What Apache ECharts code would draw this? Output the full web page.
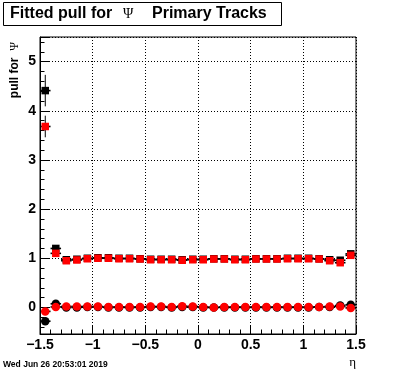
<!DOCTYPE html>
<html>
<head>
<meta charset="utf-8">
<script src="https://cdn.jsdelivr.net/npm/echarts@6/dist/echarts.min.js"></script>
<style>
  html, body { margin: 0; padding: 0; background: #fff; }
  #chart { width: 396px; height: 372px; }
</style>
</head>
<body>
<div id="chart"></div>
<script>
// eta bin centres
const etaBins = [-1.45, -1.35, -1.25, -1.15, -1.05, -0.95, -0.85, -0.75, -0.65, -0.55,
  -0.45, -0.35, -0.25, -0.15, -0.05, 0.05, 0.15, 0.25, 0.35, 0.45,
  0.55, 0.65, 0.75, 0.85, 0.95, 1.05, 1.15, 1.25, 1.35, 1.45]
const binHalfWidth = 0.05

// pull width (squares)
const blackSq = [4.41, 1.20, 0.97, 0.98, 1.00, 1.01, 1.01, 1.00, 1.00, 0.99,
  0.98, 0.98, 0.98, 0.97, 0.98, 0.98, 0.99, 0.99, 0.98, 0.98,
  0.99, 0.99, 0.99, 1.00, 1.00, 1.00, 0.99, 0.97, 0.96, 1.09]
const blackSqErr = [0.32, 0.06, 0.02, 0.02, 0.02, 0.02, 0.02, 0.02, 0.02, 0.02,
  0.02, 0.02, 0.02, 0.02, 0.02, 0.02, 0.02, 0.02, 0.02, 0.02,
  0.02, 0.02, 0.02, 0.02, 0.02, 0.02, 0.02, 0.02, 0.02, 0.04]
const redSq = [3.68, 1.10, 0.95, 0.965, 0.99, 1.00, 1.00, 0.99, 0.99, 0.985,
  0.97, 0.97, 0.97, 0.96, 0.97, 0.97, 0.985, 0.985, 0.97, 0.97,
  0.985, 0.985, 0.985, 0.99, 0.99, 0.99, 0.985, 0.95, 0.91, 1.06]
const redSqErr = [0.22, 0.05, 0.02, 0.02, 0.02, 0.02, 0.02, 0.02, 0.02, 0.02,
  0.02, 0.02, 0.02, 0.02, 0.02, 0.02, 0.02, 0.02, 0.02, 0.02,
  0.02, 0.02, 0.02, 0.02, 0.02, 0.02, 0.02, 0.02, 0.02, 0.03]

// pull mean (circles)
const blackCi = [-0.28, 0.075, 0.00, 0.00, 0.01, 0.01, 0.00, 0.00, 0.00, 0.00,
  0.01, 0.01, 0.00, 0.01, 0.01, 0.00, 0.00, 0.00, 0.00, 0.00,
  0.00, 0.00, 0.00, 0.00, 0.00, 0.00, 0.01, 0.01, 0.04, 0.055]
const blackCiErr = [0.04, 0.03, 0.02, 0.02, 0.02, 0.02, 0.02, 0.02, 0.02, 0.02,
  0.02, 0.02, 0.02, 0.02, 0.02, 0.02, 0.02, 0.02, 0.02, 0.02,
  0.02, 0.02, 0.02, 0.02, 0.02, 0.02, 0.02, 0.02, 0.02, 0.03]
const redCi = [-0.08, 0.01, 0.02, 0.02, 0.02, 0.02, 0.01, 0.01, 0.01, 0.01,
  0.02, 0.02, 0.01, 0.025, 0.02, 0.01, 0.00, 0.01, 0.01, 0.01,
  0.01, 0.01, 0.01, 0.01, 0.01, 0.01, 0.01, 0.02, 0.02, -0.01]
const redCiErr = [0.03, 0.02, 0.02, 0.02, 0.02, 0.02, 0.02, 0.02, 0.02, 0.02,
  0.02, 0.02, 0.02, 0.02, 0.02, 0.02, 0.02, 0.02, 0.02, 0.02,
  0.02, 0.02, 0.02, 0.02, 0.02, 0.02, 0.02, 0.02, 0.02, 0.03]

const FONT = '"Liberation Sans", Arial, sans-serif'
const SERIF = '"Liberation Serif", "DejaVu Serif", serif'

const points = (vals) => etaBins.map((x, i) => [x, vals[i]])
const errRows = (vals, errs) => etaBins.map((x, i) => [x, vals[i], errs[i]])

const errorSeries = (vals, errs) => ({
  type: 'custom',
  z: 2,
  silent: true,
  data: errRows(vals, errs),
  renderItem: (params, api) => {
    const x = api.value(0)
    const y = api.value(1)
    const e = api.value(2)
    const l = api.coord([x - binHalfWidth, y])
    const r = api.coord([x + binHalfWidth, y])
    const t = api.coord([x, y + e])
    const b = api.coord([x, y - e])
    return {
      type: 'group',
      children: [
        { type: 'line', shape: { x1: l[0], y1: l[1], x2: r[0], y2: r[1] }, style: { stroke: '#000', lineWidth: 1.6 } },
        { type: 'line', shape: { x1: t[0], y1: t[1], x2: b[0], y2: b[1] }, style: { stroke: '#000', lineWidth: 1 } }
      ]
    }
  }
})

const markerSeries = (vals, symbol, size, color) => ({
  type: 'scatter',
  z: 3,
  silent: true,
  symbol,
  symbolSize: size,
  itemStyle: { color, opacity: 1 },
  data: points(vals)
})

const chart = echarts.init(document.getElementById('chart'), null, { renderer: 'canvas' })

chart.setOption({
  animation: false,
  backgroundColor: '#fff',
  grid: { left: 40, right: 40, top: 37, bottom: 38, show: true, borderColor: '#000', borderWidth: 1, backgroundColor: 'transparent' },
  xAxis: {
    type: 'value',
    min: -1.5,
    max: 1.5,
    interval: 0.5,
    axisLine: { onZero: false, lineStyle: { color: '#000', width: 1 } },
    axisTick: { inside: true, length: 9, lineStyle: { color: '#000' } },
    minorTick: { show: true, splitNumber: 5, length: 4.5, lineStyle: { color: '#000' } },
    splitLine: { show: true, lineStyle: { color: '#000', type: [1, 2], width: 1 } },
    axisLabel: {
      margin: 4,
      color: '#000',
      fontFamily: FONT,
      fontWeight: 'bold',
      fontSize: 14,
      formatter: v => String(v).replace('-', '\u2212')
    }
  },
  yAxis: {
    type: 'value',
    min: -0.54,
    max: 5.5,
    splitNumber: 6,
    axisLine: { onZero: false, lineStyle: { color: '#000', width: 1 } },
    axisTick: { inside: true, length: 9, lineStyle: { color: '#000' } },
    minorTick: { show: true, splitNumber: 5, length: 4.5, lineStyle: { color: '#000' } },
    splitLine: { show: true, lineStyle: { color: '#000', type: [1, 2], width: 1 } },
    axisLabel: {
      margin: 4,
      color: '#000',
      fontFamily: FONT,
      fontWeight: 'bold',
      fontSize: 14,
      showMinLabel: false,
      showMaxLabel: false
    }
  },
  graphic: [
    {
      type: 'rect',
      shape: { x: 3.5, y: 2.5, width: 278, height: 23 },
      style: { fill: '#fff', stroke: '#000', lineWidth: 1 },
      z: 10
    },
    {
      type: 'text', x: 10, y: 14, z: 11,
      style: { text: 'Fitted pull for', fill: '#000', font: 'bold 16px ' + FONT, textVerticalAlign: 'middle' }
    },
    {
      type: 'text', x: 123, y: 14, z: 11,
      style: { text: 'Ψ', fill: '#000', font: '14px ' + SERIF, textVerticalAlign: 'middle' }
    },
    {
      type: 'text', x: 152, y: 14, z: 11,
      style: { text: 'Primary Tracks', fill: '#000', font: 'bold 16px ' + FONT, textVerticalAlign: 'middle' }
    },
    {
      type: 'text', x: 15, y: 42, rotation: Math.PI / 2, z: 11,
      style: {
        text: '{a|pull for}  {b|Ψ}',
        textAlign: 'right',
        textVerticalAlign: 'middle',
        rich: {
          a: { fontFamily: FONT, fontWeight: 'bold', fontSize: 12, fill: '#000' },
          b: { fontFamily: SERIF, fontSize: 12, fill: '#000' }
        }
      }
    },
    {
      type: 'text', x: 356, y: 363, z: 11,
      style: { text: 'η', fill: '#000', font: '13px ' + SERIF, textAlign: 'right', textVerticalAlign: 'middle' }
    },
    {
      type: 'text', x: 3, y: 365, z: 11,
      style: { text: 'Wed Jun 26 20:53:01 2019', fill: '#000', font: 'bold 8.5px ' + FONT, textVerticalAlign: 'middle' }
    }
  ],
  series: [
    errorSeries(blackSq, blackSqErr),
    errorSeries(blackCi, blackCiErr),
    errorSeries(redSq, redSqErr),
    errorSeries(redCi, redCiErr),
    markerSeries(blackSq, 'rect', 7.5, '#000'),
    markerSeries(blackCi, 'circle', 8.5, '#000'),
    markerSeries(redSq, 'rect', 7.5, '#ff0000'),
    markerSeries(redCi, 'circle', 8.5, '#ff0000')
  ]
})
</script>
</body>
</html>
